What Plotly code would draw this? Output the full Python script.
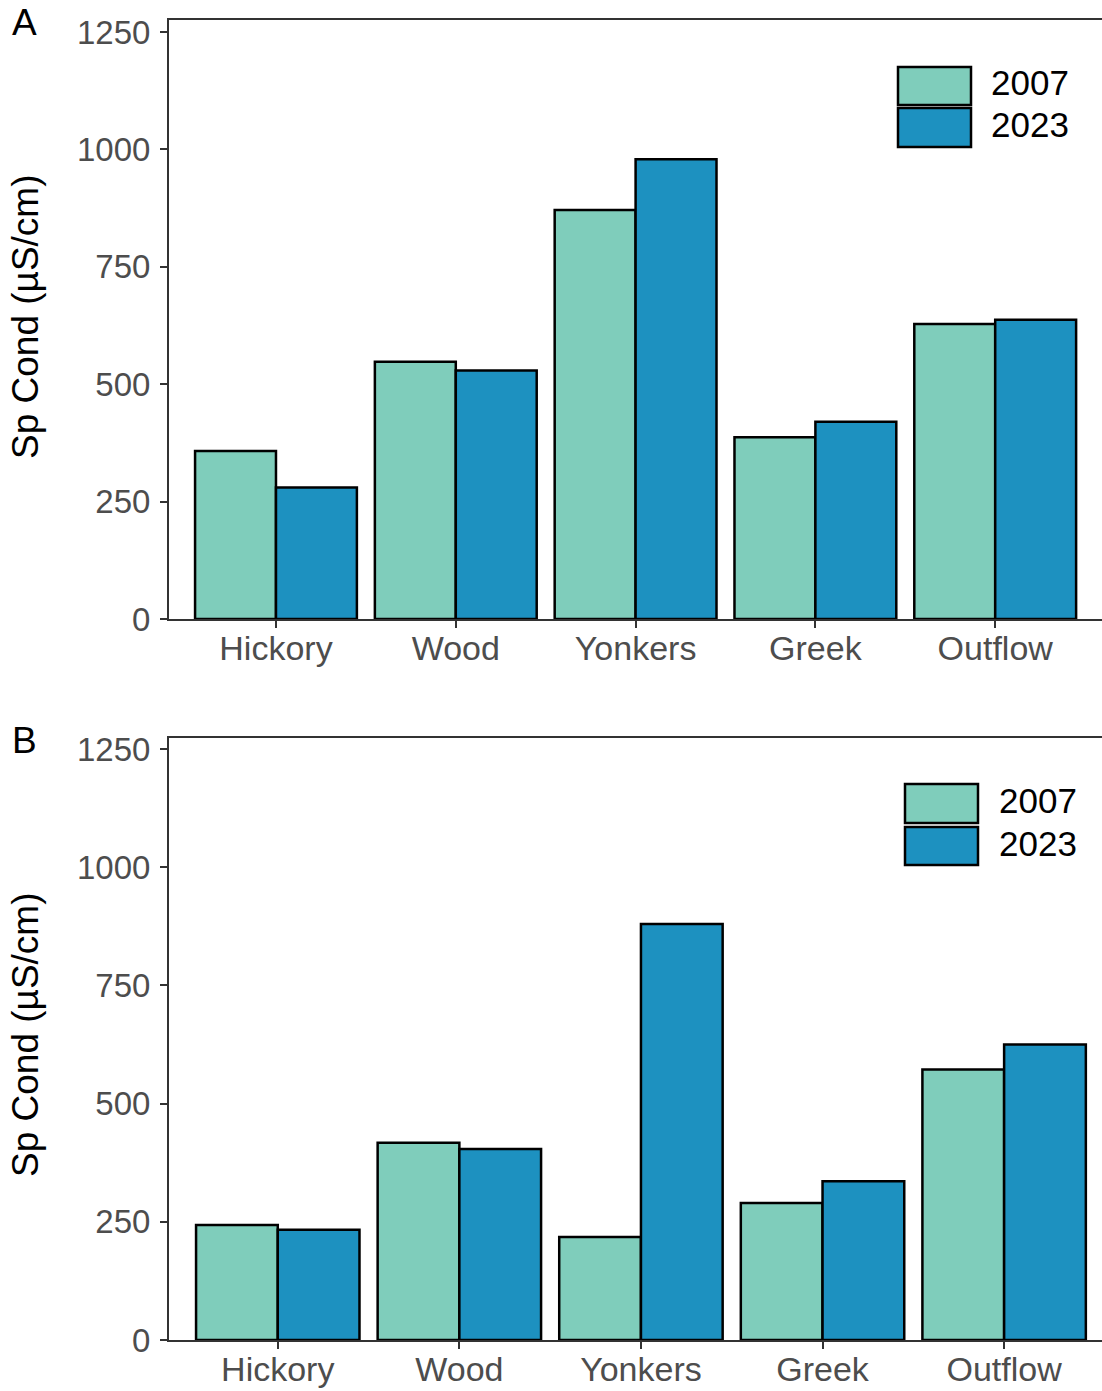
import plotly.graph_objects as go

# Specific conductance by site, two panels (A, B), 2007 vs 2023
sites = ["Hickory", "Wood", "Yonkers", "Greek", "Outflow"]
years = ["2007", "2023"]
panel_a_2007 = [358, 548, 871, 387, 628]
panel_a_2023 = [280, 529, 979, 420, 637]
panel_b_2007 = [243, 417, 218, 290, 572]
panel_b_2023 = [233, 404, 880, 336, 625]
y_ticks = [0, 250, 500, 750, 1000, 1250]

colors = {"2007": "#7FCDBB", "2023": "#1D91C0"}
W, H = 1102, 1391
FONT = "Liberation Sans, Arial, sans-serif"
AXIS_COL = "#333333"
TICK_COL = "#4D4D4D"


def px(x):
    return x / W


def py(y):
    return 1 - y / H


fig = go.Figure()

panels = [
    ("x", "y", panel_a_2007, panel_a_2023),
    ("x2", "y2", panel_b_2007, panel_b_2023),
]
for xa, ya, v07, v23 in panels:
    for yr, vals in zip(years, [v07, v23]):
        fig.add_trace(go.Bar(
            x=sites, y=vals, name=yr, xaxis=xa, yaxis=ya,
            marker=dict(color=colors[yr], line=dict(color="black", width=2.5)),
            offsetgroup=yr, showlegend=False,
        ))

axis_common = dict(
    showline=True, linecolor=AXIS_COL, linewidth=2,
    ticks="outside", ticklen=7, tickwidth=2, tickcolor=AXIS_COL,
    showgrid=False, zeroline=False, automargin=False,
)
x_common = dict(type="category", mirror=True, ticklabelstandoff=-9,
                tickfont=dict(size=34, color=TICK_COL), **axis_common)
y_common = dict(tickvals=y_ticks, ticklabelstandoff=3,
                tickfont=dict(size=33, color=TICK_COL), **axis_common)

fig.update_layout(
    width=W, height=H,
    margin=dict(l=0, r=0, t=0, b=0, autoexpand=False),
    paper_bgcolor="white", plot_bgcolor="white",
    barmode="group", bargap=0.1, bargroupgap=0,
    font=dict(family=FONT),
    showlegend=False,
    xaxis=dict(domain=[px(169), 1], anchor="y", range=[-0.595, 4.594], **x_common),
    yaxis=dict(domain=[py(619), py(20)], anchor="x", range=[0, 1275.5], **y_common),
    xaxis2=dict(domain=[px(169), 1], anchor="y2", range=[-0.599, 4.539], **x_common),
    yaxis2=dict(domain=[py(1340), py(738)], anchor="x2", range=[0, 1273.3], **y_common),
)

annotations = []
shapes = []
ytitle = "Sp Cond (µS/cm)"
for label, lab_y, title_y in [("A", 22, 317), ("B", 740, 1035)]:
    annotations.append(dict(
        text=label, x=px(24), y=py(lab_y), xref="paper", yref="paper",
        showarrow=False, font=dict(size=37, color="black", family=FONT),
        xanchor="center", yanchor="middle"))
    annotations.append(dict(
        text=ytitle, x=px(25), y=py(title_y), xref="paper", yref="paper",
        showarrow=False, textangle=-90,
        font=dict(size=37, color="black", family=FONT),
        xanchor="center", yanchor="middle"))

# Legend keys for each panel: (box left, box right, [(top, bottom) per year], text left)
legend_specs = [
    (898, 971, [(67, 105), (108, 147)], 989),
    (905, 978, [(784, 823), (827, 865)], 997),
]
for x0, x1, rows, tx in legend_specs:
    for yr, (y0, y1) in zip(years, rows):
        shapes.append(dict(
            type="rect", xref="paper", yref="paper",
            x0=px(x0), x1=px(x1), y0=py(y1), y1=py(y0),
            fillcolor=colors[yr], line=dict(color="black", width=2.5)))
        annotations.append(dict(
            text=yr, x=px(tx), y=py((y0 + y1) / 2 - 3), xref="paper", yref="paper",
            showarrow=False, font=dict(size=35, color="black", family=FONT),
            xanchor="left", yanchor="middle"))

fig.update_layout(annotations=annotations, shapes=shapes)
fig.write_html("out.html")
